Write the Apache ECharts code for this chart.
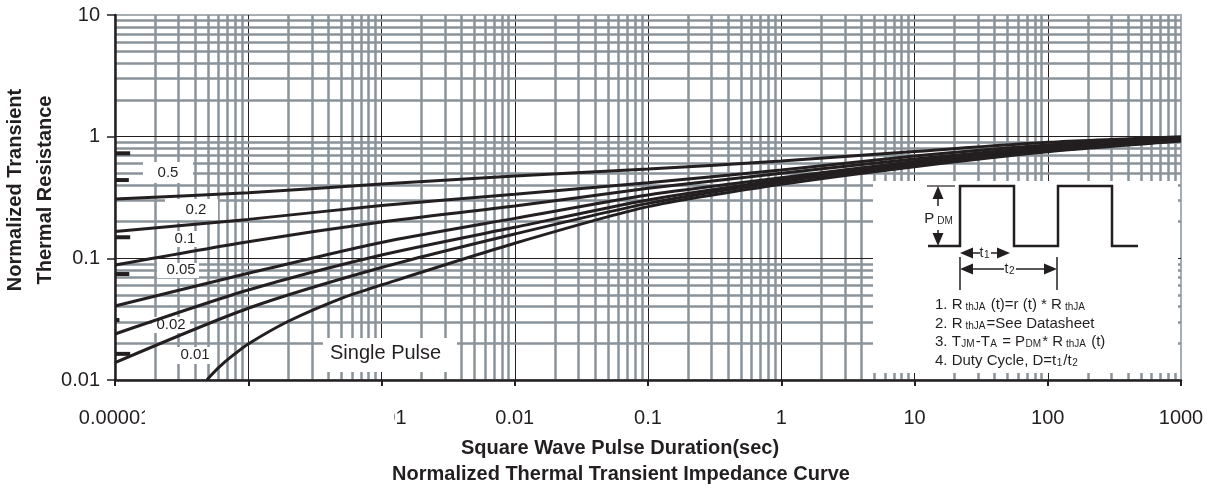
<!DOCTYPE html>
<html><head><meta charset="utf-8">
<script src="https://cdn.jsdelivr.net/npm/echarts@6/dist/echarts.min.js"></script>
<style>html,body{margin:0;padding:0;background:#fff}#c{width:1222px;height:502px}</style>
</head><body><div id="c"></div>
<script>
// ---- data ----
const xTickLabels = ['0.00001','0.0001','0.001','0.01','0.1','1','10','100','1000'];
const yTickLabels = ['0.01','0.1','1','10'];
const durations = [1e-5,1e-4,1e-3,1e-2,1e-1,1,10,100,1000];
const dutyNames = ['0.5','0.2','0.1','0.05','0.02','0.01'];
const duty05 = [0.307,0.346,0.408,0.475,0.542,0.631,0.755,0.899,1.0];
const duty02 = [0.166,0.209,0.272,0.336,0.418,0.532,0.694,0.854,0.985];
const duty01 = [0.088,0.137,0.199,0.269,0.376,0.500,0.655,0.822,0.972];
const duty005 = [0.0406,0.0753,0.135,0.213,0.332,0.460,0.625,0.800,0.957];
const duty002 = [0.0239,0.0549,0.1065,0.180,0.302,0.4405,0.602,0.777,0.943];
const duty001 = [0.0139,0.0389,0.0841,0.1585,0.283,0.4265,0.585,0.762,0.930];
const singleX = [4.9e-5,5.2e-5,6.1e-5,7.7e-5,1e-4,2e-4,5e-4,1e-3,1e-2,1e-1,1,10,100,1000];
const singleY = [0.01,0.0108,0.0129,0.0160,0.0198,0.0304,0.0469,0.0604,0.133,0.266,0.406,0.567,0.752,0.921];
const stubY = [0.73,0.44,0.149,0.0743,0.0311,0.0164];
const stubEndX = [1.3e-5,1.27e-5,1.3e-5,1.28e-5,1.08e-5,1.3e-5];

const INK = '#231f20';
const GRID = '#8a939a';
const FONT = '"Liberation Sans", Arial, sans-serif';

// grid lines (decades black, sub-decades gray)
const gridLines = [];
for (let e = -5; e <= 2; e++) {
  for (let k = 1; k <= 9; k++) {
    const v = k * Math.pow(10, e);
    if (k === 1 && e === -5) continue;
    gridLines.push({xAxis: v, lineStyle: k === 1 ? {color: INK, width: 1, type: 'solid'} : {color: GRID, width: 2.5, type: 'solid'}});
  }
}
for (let e = -2; e <= 0; e++) {
  for (let k = 1; k <= 9; k++) {
    const v = k * Math.pow(10, e);
    if (k === 1 && e === -2) continue;
    gridLines.push({yAxis: v, lineStyle: k === 1 ? {color: INK, width: 1, type: 'solid'} : {color: GRID, width: 2.5, type: 'solid'}});
  }
}

const curves = [duty05, duty02, duty01, duty005, duty002, duty001];
const series = [{
  type: 'line', data: [], z: 1, silent: true,
  markLine: {z: 1, precision: 12, silent: true, symbol: ['none','none'], label: {show: false}, animation: false,
    emphasis: {disabled: true}, data: gridLines}
}];
curves.forEach((c, i) => {
  series.push({
    name: 'D=' + dutyNames[i], type: 'line', z: 3, showSymbol: false, smooth: 0.25,
    lineStyle: {color: INK, width: 3}, data: durations.map((x, j) => [x, c[j]])
  });
});
series.push({
  name: 'Single Pulse', type: 'line', z: 3, showSymbol: false, smooth: 0.25,
  lineStyle: {color: INK, width: 3}, data: singleX.map((x, j) => [x, singleY[j]])
});
stubY.forEach((y, i) => {
  series.push({type: 'line', z: 3, showSymbol: false, lineStyle: {color: INK, width: 4},
    data: [[1e-5, y], [stubEndX[i], y]]});
});

const rich = {
  s: {fontSize: 10, fontFamily: FONT, fill: INK, padding: [5, 1, 0, 0.5]},
  r: {fontSize: 10, fontFamily: FONT, fill: INK, padding: [5, 1, 0, 3]}
};
function box(x, y, w, h, z) { return {type: 'rect', shape: {x, y, width: w, height: h}, style: {fill: '#fff'}, z: z || 2}; }
function txt(x, y, t, size, opts) {
  return {type: 'text', x, y, z: 4, style: Object.assign({text: t, fill: INK, font: size + 'px ' + FONT,
    align: 'center', verticalAlign: 'middle', rich: rich}, (opts || {}))};
}
function arrowHead(tipX, tipY, dir) {
  let pts;
  if (dir === 'up') pts = [[tipX, tipY], [tipX - 5.5, tipY + 13], [tipX + 5.5, tipY + 13]];
  if (dir === 'down') pts = [[tipX, tipY], [tipX - 5.5, tipY - 13], [tipX + 5.5, tipY - 13]];
  if (dir === 'left') pts = [[tipX, tipY], [tipX + 13, tipY - 5.5], [tipX + 13, tipY + 5.5]];
  if (dir === 'right') pts = [[tipX, tipY], [tipX - 13, tipY - 5.5], [tipX - 13, tipY + 5.5]];
  return {type: 'polygon', shape: {points: pts}, style: {fill: INK}, z: 4};
}
function seg(x1, y1, x2, y2, w) { return {type: 'line', shape: {x1, y1, x2, y2}, style: {stroke: INK, lineWidth: w || 1.5}, z: 4}; }

const graphics = [
  box(143, 162, 50, 21), box(165, 199, 53, 21), box(169, 231, 29, 16), box(157, 263, 42, 15),
  box(152, 317, 38, 16), box(177, 347, 35, 17), box(323, 338, 134, 34), box(873, 181, 305, 192),
  box(145, 392, 249, 40, 10),
  txt(168, 173, dutyNames[0], 15), txt(196, 210, dutyNames[1], 15), txt(185, 239, dutyNames[2], 15),
  txt(181, 270, dutyNames[3], 15), txt(171, 325, dutyNames[4], 15), txt(195, 355, dutyNames[5], 15),
  txt(330, 353, 'Single Pulse', 20, {align: 'left'}),
  {type: 'polyline', shape: {points: [[928,246],[960,246],[960,186],[1014,186],[1014,246],[1058,246],[1058,186],[1112,186],[1112,246],[1138,246]]},
    style: {stroke: INK, lineWidth: 2.5, fill: null}, z: 4},
  seg(927, 186, 955, 186, 1.2),
  arrowHead(938, 186, 'up'), seg(938, 198, 938, 206, 1.5), seg(938, 230, 938, 234, 1.5), arrowHead(938, 246, 'down'),
  txt(939, 219, 'P{r|DM}', 15),
  arrowHead(960, 253, 'left'), seg(972, 253, 980, 253, 1.5), txt(985, 253, 't{s|1}', 14), seg(991, 253, 998, 253, 1.5), arrowHead(1010, 253, 'right'),
  arrowHead(960, 269, 'left'), seg(972, 269, 1004, 269, 1.5), txt(1010, 269, 't{s|2}', 14), seg(1016, 269, 1045, 269, 1.5), arrowHead(1057, 269, 'right'),
  seg(960, 257, 960, 290, 1.5), seg(1057, 257, 1057, 290, 1.5),
  txt(935, 305, '1. R{r|thJA} (t)=r (t) * R{r|thJA}', 15, {align: 'left'}),
  txt(935, 324, '2. R{r|thJA}=See Datasheet', 15, {align: 'left'}),
  txt(935, 342, '3. T{s|JM}-T{s|A} = P{s|DM}* R{r|thJA} (t)', 15, {align: 'left'}),
  txt(935, 361, '4. Duty Cycle, D=t{s|1}/t{s|2}', 15, {align: 'left'}),
  {type: 'text', x: 15.5, y: 190, rotation: Math.PI / 2, z: 4,
    style: {text: 'Normalized Transient', fill: INK, font: 'bold 20px ' + FONT, align: 'center', verticalAlign: 'middle'}},
  {type: 'text', x: 45.5, y: 190, rotation: Math.PI / 2, z: 4,
    style: {text: 'Thermal Resistance', fill: INK, font: 'bold 20px ' + FONT, align: 'center', verticalAlign: 'middle'}},
  {type: 'text', x: 620, y: 448, z: 4,
    style: {text: 'Square Wave Pulse Duration(sec)', fill: INK, font: 'bold 20px ' + FONT, align: 'center', verticalAlign: 'middle'}},
  {type: 'text', x: 621, y: 474, z: 4,
    style: {text: 'Normalized Thermal Transient Impedance Curve', fill: INK, font: 'bold 20px ' + FONT, align: 'center', verticalAlign: 'middle'}}
];

const chart = echarts.init(document.getElementById('c'), null, {renderer: 'canvas'});
chart.setOption({
  animation: false,
  backgroundColor: '#fff',
  grid: {left: 115, right: 41, top: 15, bottom: 122, show: true, borderColor: '#a7aeb3', borderWidth: 2, outerBoundsMode: 'none', containLabel: false},
  xAxis: {
    type: 'log', logBase: 10, min: 1e-5, max: 1000, splitNumber: 8, z: 5,
    axisLine: {lineStyle: {color: INK, width: 2.5}},
    axisTick: {length: 6, lineStyle: {color: INK, width: 2}},
    axisLabel: {margin: 28, fontSize: 20, color: INK, fontFamily: FONT, hideOverlap: false,
      formatter: v => xTickLabels[Math.round(Math.log10(v)) + 5]},
    splitLine: {show: false}, minorTick: {show: false}, minorSplitLine: {show: false}
  },
  yAxis: {
    type: 'log', logBase: 10, min: 0.01, max: 10, splitNumber: 3, z: 5,
    axisLine: {lineStyle: {color: INK, width: 2.5}},
    axisTick: {length: 8, lineStyle: {color: INK, width: 1.5}},
    axisLabel: {margin: 15, fontSize: 20, color: INK, fontFamily: FONT, hideOverlap: false,
      formatter: v => yTickLabels[Math.round(Math.log10(v)) + 2]},
    splitLine: {show: false}
  },
  series: series,
  graphic: {elements: graphics}
});
</script>
</body></html>
